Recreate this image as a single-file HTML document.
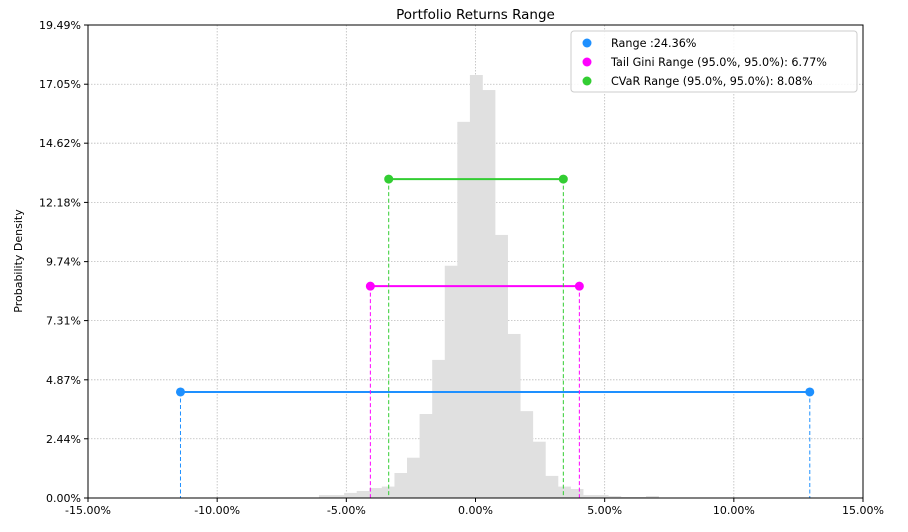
<!DOCTYPE html>
<html><head><meta charset="utf-8"><style>
body{margin:0;background:#fff;width:908px;height:532px;overflow:hidden}
svg{display:block;font-family:"DejaVu Sans","Liberation Sans",sans-serif}
</style></head><body>
<svg id="chart" width="908" height="532">
<text x="475.5" y="19" text-anchor="middle" font-size="13.5" fill="#000">Portfolio Returns Range</text>
<text transform="translate(22,261) rotate(-90)" text-anchor="middle" font-size="11">Probability Density</text>
<g id="grid"></g><g id="bars"></g><g id="ranges"></g><g id="axes"></g>
<g>
<rect x="571" y="31" width="286" height="61" rx="3" fill="#fff" fill-opacity="0.85" stroke="#ccc"/>
<g font-size="11.2">
<circle cx="587" cy="43" r="4.5" fill="#1e90ff"/><text x="611" y="47">Range :24.36%</text>
<circle cx="587" cy="62" r="4.5" fill="#ff00ff"/><text x="611" y="66">Tail Gini Range (95.0%, 95.0%): 6.77%</text>
<circle cx="587" cy="81" r="4.5" fill="#32cd32"/><text x="611" y="85">CVaR Range (95.0%, 95.0%): 8.08%</text>
</g></g>
</svg>
<script>
const binStart = -6.06;
const binWidth = 0.487;
const densities = [0.12,0.12,0.21,0.29,0.41,0.47,1.03,1.66,3.46,5.69,9.57,15.5,17.43,16.81,10.84,6.76,3.58,2.32,0.91,0.47,0.37,0.12,0.12,0.08,0.04,0.04,0.08];
const rangeNames = ['range','tail-gini','cvar'];
const rangeLow = [-11.42,-4.07,-3.36];
const rangeHigh = [12.94,4.02,3.40];
const rangeLevel = [4.37,8.73,13.14];
const rangeColors = ['#1e90ff','#ff00ff','#32cd32'];
const xTicks = [-15,-10,-5,0,5,10,15];
const yTicks = [0,2.44,4.87,7.31,9.74,12.18,14.62,17.05,19.49];
const X0=88,X1=863,Y0=498,Y1=25;
const xs=v=>X0+(v+15)/30*(X1-X0);
const ys=v=>Y0-v/19.49*(Y0-Y1);
const NS='http://www.w3.org/2000/svg';
function mk(p,t,a){const e=document.createElementNS(NS,t);for(const k in a)e.setAttribute(k,a[k]);p.appendChild(e);return e;}
const grid=document.getElementById('grid'),bars=document.getElementById('bars'),rg=document.getElementById('ranges'),ax=document.getElementById('axes');
xTicks.forEach(t=>{
 const l=mk(grid,'line',{x1:xs(t),x2:xs(t),y1:Y1,y2:Y0,stroke:'#bbb','stroke-dasharray':'1.5,1.5','stroke-width':0.8});
 
 
 mk(ax,'line',{x1:xs(t),x2:xs(t),y1:Y0,y2:Y0+4,stroke:'#000'});
 const tx=mk(ax,'text',{x:xs(t),y:Y0+16,'text-anchor':'middle','font-size':11});
 tx.textContent=t.toFixed(2)+'%';
 
 
});
yTicks.forEach(t=>{
 const l=mk(grid,'line',{x1:X0,x2:X1,y1:ys(t),y2:ys(t),stroke:'#bbb','stroke-dasharray':'1.5,1.5','stroke-width':0.8});
 
 
 mk(ax,'line',{x1:X0-4,x2:X0,y1:ys(t),y2:ys(t),stroke:'#000'});
 const tx=mk(ax,'text',{x:X0-7,y:ys(t)+4,'text-anchor':'end','font-size':11});
 tx.textContent=t.toFixed(2)+'%';
 
 
});
densities.forEach((d,i)=>{
 const a=binStart+i*binWidth,b=a+binWidth;
 const r=mk(bars,'rect',{x:xs(a),y:ys(d),width:xs(b)-xs(a)+0.3,height:Y0-ys(d),fill:'#e0e0e0'});
 
 
});
rangeNames.forEach((n,i)=>{
 const c=rangeColors[i],y=ys(rangeLevel[i]);
 [rangeLow[i],rangeHigh[i]].forEach(v=>mk(rg,'line',{x1:xs(v),x2:xs(v),y1:y,y2:Y0,stroke:c,'stroke-dasharray':'4,2.5','stroke-width':1}));
 const l=mk(rg,'line',{x1:xs(rangeLow[i]),x2:xs(rangeHigh[i]),y1:y,y2:y,stroke:c,'stroke-width':2});
 
 
 [rangeLow[i],rangeHigh[i]].forEach(v=>{
  const p=mk(rg,'circle',{cx:xs(v),cy:y,r:4.5,fill:c});
  
  
 });
});
mk(ax,'rect',{x:X0,y:Y1,width:X1-X0,height:Y0-Y1,fill:'none',stroke:'#000','stroke-width':1});
</script>
</body></html>
